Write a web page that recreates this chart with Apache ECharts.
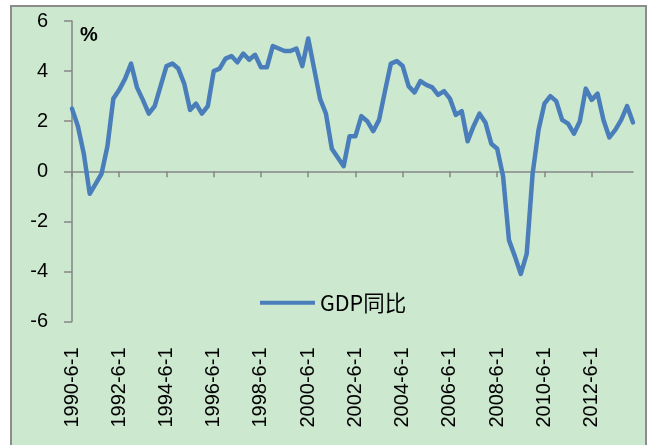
<!DOCTYPE html>
<html>
<head>
<meta charset="utf-8">
<script src="https://cdn.jsdelivr.net/npm/echarts@6/dist/echarts.min.js"></script>
<style>
  html, body { margin: 0; padding: 0; background: #fff; }
  #wrap { position: relative; width: 651px; height: 445px; overflow: hidden; }
  #frame {
    position: absolute; left: 10px; top: 5px; width: 633px; height: 460px;
    background: #cce8cf; border: 2px solid #8c8c8c;
  }
  #chart { position: absolute; left: 0; top: 0; width: 651px; height: 445px; }
</style>
</head>
<body>
<div id="wrap">
  <div id="frame"></div>
  <div id="chart"></div>
</div>
<script>
// quarterly dates, 1990-6-1 .. 2014-3-1
const startYear = 1990
const startMonth = 6
const quarterCount = 96
const quarters = []
for (let i = 0; i < quarterCount; i++) {
  const m = startMonth - 1 + i * 3
  quarters.push(`${startYear + Math.floor(m / 12)}-${(m % 12) + 1}-1`)
}

const seriesName = 'GDP同比'
const gdpYoY = [
  2.5, 1.8, 0.7, -0.9, -0.5, -0.1, 1.0, 2.9, 3.25, 3.7, 4.3, 3.35,
  2.85, 2.3, 2.6, 3.4, 4.2, 4.3, 4.1, 3.5, 2.45, 2.7, 2.3, 2.6,
  4.0, 4.1, 4.5, 4.6, 4.35, 4.7, 4.45, 4.65, 4.15, 4.15, 5.0, 4.9,
  4.8, 4.8, 4.9, 4.2, 5.3, 4.1, 2.9, 2.3, 0.9, 0.55, 0.2, 1.4,
  1.4, 2.2, 2.0, 1.6, 2.05, 3.2, 4.3, 4.4, 4.2, 3.4, 3.15, 3.6,
  3.45, 3.35, 3.05, 3.2, 2.9, 2.25, 2.4, 1.2, 1.8, 2.3, 1.95, 1.1,
  0.9, -0.2, -2.75, -3.4, -4.1, -3.3, -0.1, 1.65, 2.7, 3.0, 2.8, 2.05,
  1.9, 1.5, 2.0, 3.3, 2.85, 3.1, 2.05, 1.35, 1.65, 2.05, 2.6, 1.95
]

const AXIS_COLOR = '#868686'
const LINE_COLOR = '#4a7ebb'
const FONT = '"Liberation Sans", Arial, sans-serif'

const chart = echarts.init(document.getElementById('chart'), null, { renderer: 'canvas' })

chart.setOption({
  animation: false,
  backgroundColor: 'transparent',
  grid: { left: 72, right: 18, top: 21, bottom: 123.5 },
  legend: {
    data: [seriesName],
    left: 255,
    top: 287,
    icon: 'rect',
    itemWidth: 55,
    itemHeight: 4,
    textStyle: { fontSize: 21.5, color: '#000', fontFamily: '"Noto Sans CJK SC", sans-serif' }
  },
  graphic: [
    {
      type: 'text',
      left: 80,
      top: 25,
      style: { text: '%', fontSize: 20, fontWeight: 'bold', fill: '#000', fontFamily: FONT }
    }
  ],
  xAxis: [
    {
      type: 'category',
      data: quarters,
      boundaryGap: false,
      position: 'bottom',
      axisLine: { onZero: true, lineStyle: { color: AXIS_COLOR, width: 1.5 } },
      axisTick: { show: true, interval: 7, length: 6, lineStyle: { color: AXIS_COLOR, width: 1.5 } },
      axisLabel: { show: false },
      splitLine: { show: false }
    },
    {
      type: 'category',
      data: quarters,
      boundaryGap: false,
      position: 'bottom',
      axisLine: { show: false, onZero: false },
      axisTick: { show: false },
      axisLabel: {
        interval: 7,
        rotate: 90,
        margin: 26,
        fontSize: 20,
        color: '#000',
        fontFamily: FONT
      },
      splitLine: { show: false }
    }
  ],
  yAxis: {
    type: 'value',
    min: -6,
    max: 6,
    interval: 2,
    axisLine: { show: true, lineStyle: { color: AXIS_COLOR, width: 1.5 } },
    axisTick: { show: true, length: 8, lineStyle: { color: AXIS_COLOR, width: 1.5 } },
    axisLabel: { margin: 24, fontSize: 20, color: '#000', fontFamily: FONT },
    splitLine: { show: false }
  },
  series: [
    {
      name: seriesName,
      type: 'line',
      xAxisIndex: 0,
      data: gdpYoY,
      showSymbol: false,
      color: LINE_COLOR,
      lineStyle: { width: 4.5, color: LINE_COLOR, cap: 'round', join: 'round' }
    }
  ]
})
</script>
</body>
</html>
